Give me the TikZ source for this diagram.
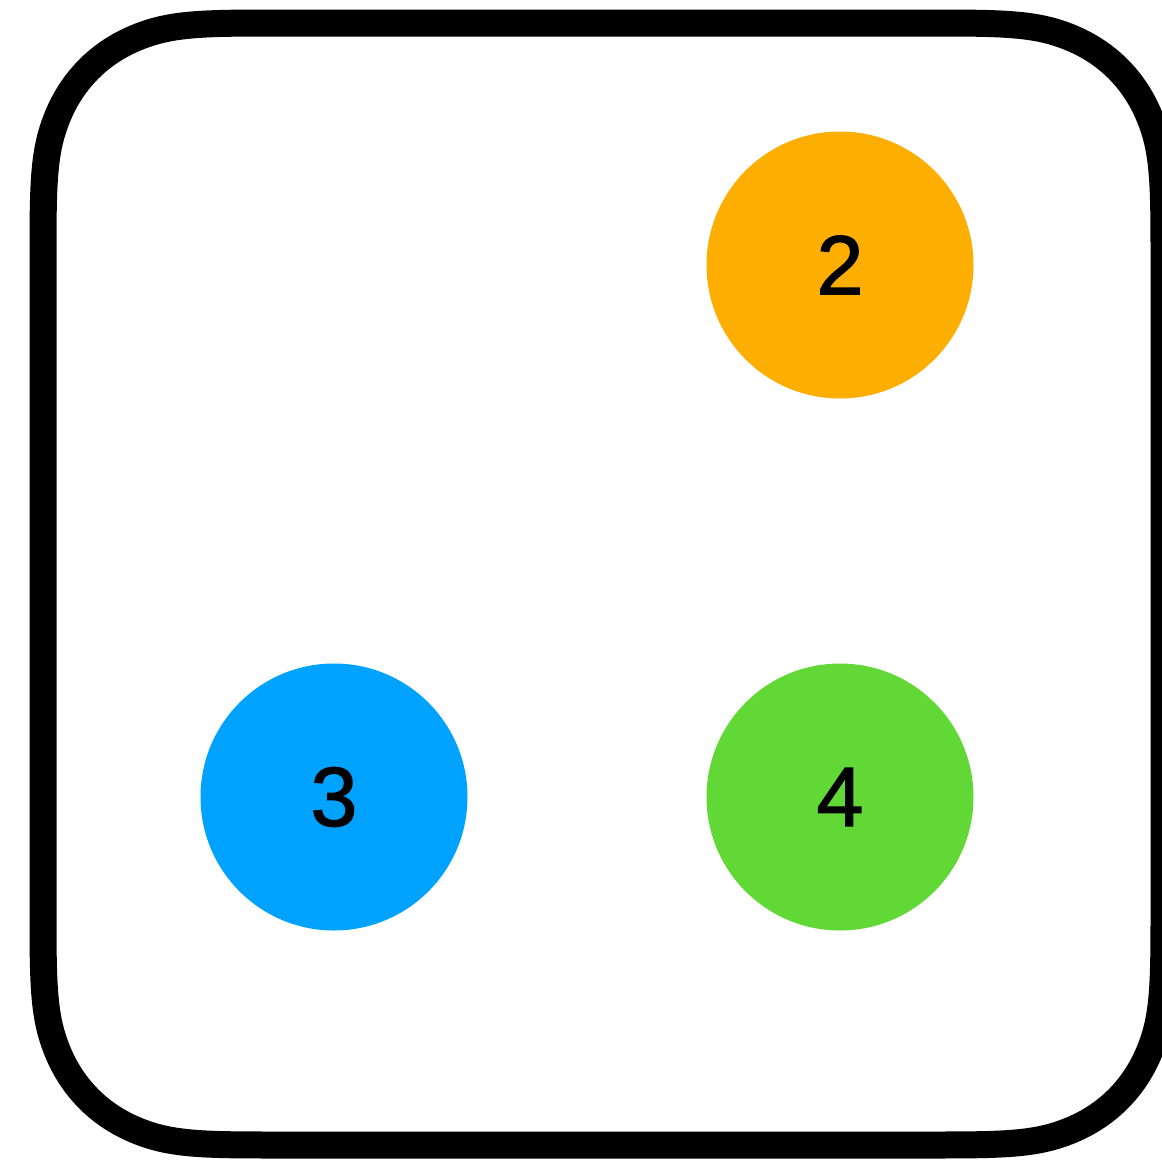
\documentclass[tikz,border=0pt]{standalone}
\usepackage{fontspec}
\setmainfont{Liberation Sans}
\newfontfamily\digitfont[FakeBold=1.5]{Liberation Sans}
\definecolor{dorange}{HTML}{FEAE00}
\definecolor{dblue}{HTML}{00A2FF}
\definecolor{dgreen}{HTML}{61D836}
\begin{document}
\begin{tikzpicture}[x=1pt,y=-1pt,
  dot/.style={circle,minimum size=267pt,inner sep=0pt,font=\digitfont\fontsize{84}{84}\selectfont,text=black},
  frame/.style={line width=27pt,line join=round}]
\useasboundingbox (0,0) rectangle (1162,1162);
\clip (0,0) rectangle (1162,1162);
\draw[frame] (283,23) -- (924,23)
  .. controls (993.1,23) and (1027.7,23) .. (1058.8,33.28)
  .. controls (1105.47,48.5) and (1138.5,81.53) .. (1153.72,128.2)
  .. controls (1164,159.3) and (1164,193.9) .. (1164,263)
  -- (1164,905)
  .. controls (1164,974.1) and (1164,1008.7) .. (1153.72,1039.8)
  .. controls (1138.5,1086.47) and (1105.47,1119.5) .. (1058.8,1134.72)
  .. controls (1027.7,1145) and (993.1,1145) .. (924,1145)
  -- (283,1145)
  .. controls (213.9,1145) and (179.3,1145) .. (148.2,1134.72)
  .. controls (101.53,1119.5) and (68.5,1086.47) .. (53.28,1039.8)
  .. controls (43,1008.7) and (43,974.1) .. (43,905)
  -- (43,263)
  .. controls (43,193.9) and (43,159.3) .. (53.28,128.2)
  .. controls (68.5,81.53) and (101.53,48.5) .. (148.2,33.28)
  .. controls (179.3,23) and (213.9,23) .. cycle;
\node[dot,fill=dorange] (n2) at (840,265) {2};
\node[dot,fill=dblue] (n3) at (334,797) {3};
\node[dot,fill=dgreen] (n4) at (840,797) {4};
\end{tikzpicture}
\end{document}
